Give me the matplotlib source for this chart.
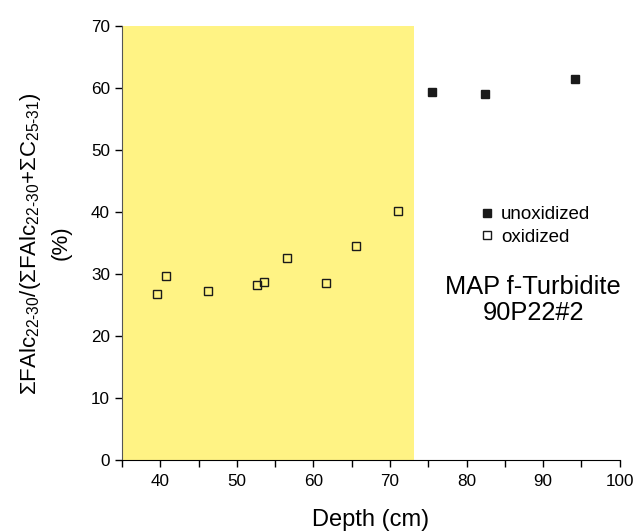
import matplotlib
matplotlib.use("Agg")
import matplotlib.pyplot as plt
from matplotlib.ticker import MultipleLocator

plt.rcParams['font.family'] = ['Liberation Sans', 'DejaVu Sans']
plt.rcParams['mathtext.fontset'] = 'custom'
plt.rcParams['mathtext.rm'] = 'Liberation Sans'
plt.rcParams['mathtext.it'] = 'Liberation Sans'
plt.rcParams['mathtext.default'] = 'regular'

# data
depth_oxidized = [39.6, 40.7, 46.2, 52.6, 53.6, 56.5, 61.6, 65.5, 71.0]
ratio_oxidized = [26.8, 29.7, 27.3, 28.3, 28.7, 32.6, 28.5, 34.6, 40.2]
depth_unoxidized = [75.5, 82.4, 94.2]
ratio_unoxidized = [59.4, 59.0, 61.4]
oxidized_zone = [35, 73.2]

fig = plt.figure(figsize=(6.35, 5.32), dpi=100)
ax = fig.add_axes([0.192, 0.135, 0.784, 0.816])

ax.axvspan(oxidized_zone[0], oxidized_zone[1], ymin=0, ymax=1, color='#fff384', lw=0, zorder=0)

ax.plot(depth_unoxidized, ratio_unoxidized, linestyle='none', marker='s', markersize=5.8,
        color='#1a1a1a', label='unoxidized')
ax.plot(depth_oxidized, ratio_oxidized, linestyle='none', marker='s', markersize=5.8,
        markerfacecolor='none', markeredgecolor='#1a1a1a', markeredgewidth=1.0, label='oxidized')

ax.set_xlim(35, 100)
ax.set_ylim(0, 70)
ax.xaxis.set_major_locator(MultipleLocator(10))
ax.xaxis.set_minor_locator(MultipleLocator(5))
ax.yaxis.set_major_locator(MultipleLocator(10))
ax.tick_params(axis='both', which='both', direction='out', length=5, width=1, labelsize=12.3)
ax.tick_params(axis='x', pad=5)

ax.spines['top'].set_visible(False)
ax.spines['right'].set_visible(False)
ax.spines['left'].set_color('#555555')

ax.set_xlabel('Depth (cm)', fontsize=17, labelpad=14)
ax.set_ylabel(r'$\Sigma$FAlc$_{22\text{-}30}$/($\Sigma$FAlc$_{22\text{-}30}$+$\Sigma$C$_{25\text{-}31}$)' + '\n(%)',
              fontsize=16, labelpad=14, linespacing=1.45)

leg = ax.legend(loc='upper left', bbox_to_anchor=(0.705, 0.607), frameon=False, fontsize=13.5,
                handlelength=0.5, handletextpad=0.5, labelspacing=0.28, borderpad=0,
                markerscale=0.95)

ax.text(88.7, 25.9, 'MAP f-Turbidite\n90P22#2', ha='center', va='center', fontsize=18.3, linespacing=1.1)

plt.savefig("out.png", dpi=100)
